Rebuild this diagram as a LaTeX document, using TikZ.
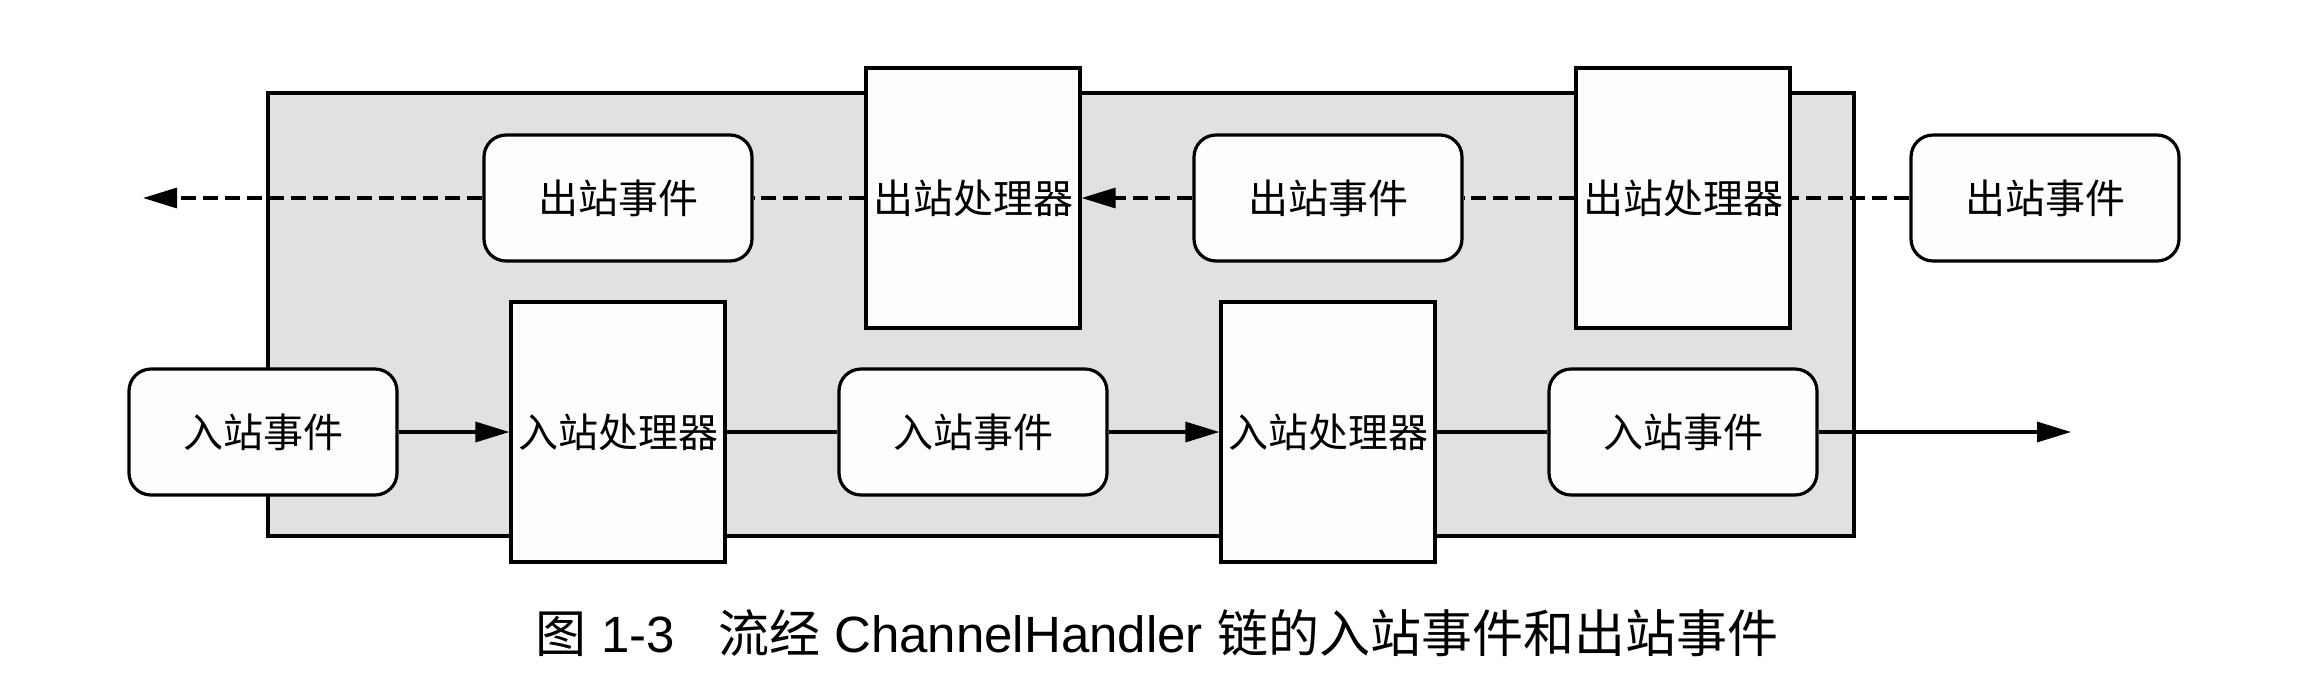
\documentclass[tikz,border=0pt]{standalone}
\usepackage{fontspec}
\setmainfont{Liberation Sans}
\newfontfamily\cjk{Noto Sans CJK SC}
\usetikzlibrary{arrows.meta}
\definecolor{graybg}{HTML}{E1E1E1}
\definecolor{boxfill}{HTML}{FDFDFD}
\begin{document}
\begin{tikzpicture}[x=0.5pt,y=-0.5pt,
  evt/.style={draw=black,line width=1.6pt,fill=boxfill,rounded corners=11pt,
    minimum width=134pt,minimum height=63pt,inner sep=0pt,
    font=\cjk\fontsize{20}{20}\selectfont},
  hdl/.style={draw=black,line width=1.6pt,fill=boxfill,
    minimum width=107pt,minimum height=130pt,inner sep=0pt,
    font=\cjk\fontsize{20}{20}\selectfont},
  flow/.style={line width=1.6pt},
  oflow/.style={flow,dash pattern=on 7.5pt off 3.5pt},
  tip/.style={-{Triangle[length=17pt,width=10pt]}}]
\useasboundingbox (0,0) rectangle (2320,692);
\filldraw[fill=graybg,draw=black,line width=1.6pt] (268,93) rectangle (1854,536);
% outbound row
\node[evt] (oe1) at (618,198) {出站事件};
\node[evt] (oe2) at (1328,198) {出站事件};
\node[evt] (oe3) at (2045,198) {出站事件};
\node[hdl] (oh1) at (973,198) {出站处理器};
\node[hdl] (oh2) at (1683,198) {出站处理器};
% inbound row
\node[evt] (ie1) at (263,432) {入站事件};
\node[evt] (ie2) at (973,432) {入站事件};
\node[evt] (ie3) at (1683,432) {入站事件};
\node[hdl] (ih1) at (618,432) {入站处理器};
\node[hdl] (ih2) at (1328,432) {入站处理器};
\coordinate (lend) at (143,198);
\coordinate (rend) at (2071,432);
% connectors
\draw[oflow] (oe3) -- (oh2);
\draw[oflow] (oh2) -- (oe2);
\draw[oflow,tip] (oe2) -- (oh1);
\draw[oflow] (oh1) -- (oe1);
\draw[oflow,tip] (oe1) -- (lend);
\draw[flow,tip] (ie1) -- (ih1);
\draw[flow] (ih1) -- (ie2);
\draw[flow,tip] (ie2) -- (ih2);
\draw[flow] (ih2) -- (ie3);
\draw[flow,tip] (ie3) -- (rend);
% caption
\node[font=\fontsize{25.5}{25.5}\selectfont,inner sep=0pt] (cap) at (1157,633)
  {{\cjk 图} 1-3\hspace{0.85em}{\cjk 流经} ChannelHandler {\cjk 链的入站事件和出站事件}};
\end{tikzpicture}
\end{document}
